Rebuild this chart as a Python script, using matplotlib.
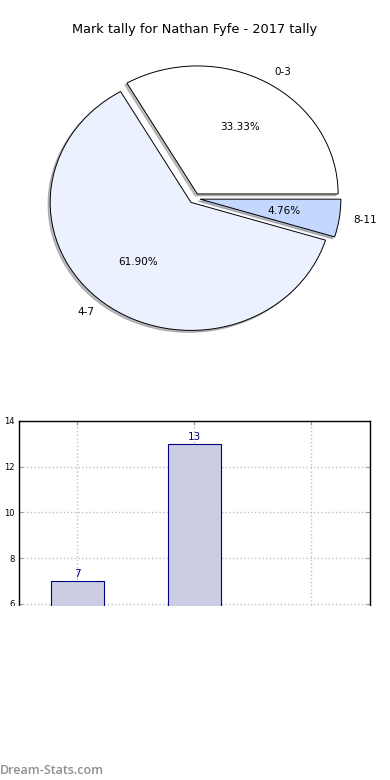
import matplotlib
matplotlib.use('Agg')
from matplotlib import pyplot as plt
from matplotlib.patches import Rectangle

labels = ['0-3', '4-7', '8-11']
counts = [7, 13, 1]
pie_colors = ['#ffffff', '#ebf1fe', '#c4d8fe']
title = 'Mark tally for Nathan Fyfe - 2017 tally'

fig = plt.figure(figsize=(3.9, 7.8), dpi=100)

# pie on top
ax1 = fig.add_axes([0.0474, 0.5405, 0.9026, 0.4103])
wedges, texts, autotexts = ax1.pie(counts, labels=labels, colors=pie_colors, autopct='%.2f%%',
                                   explode=(0.04, 0.04, 0.04),
                                   shadow={'ox': -0.011, 'oy': -0.011, 'shade': 0.5},
                                   startangle=0,
                                   wedgeprops={'edgecolor': 'black', 'linewidth': 0.7},
                                   textprops={'fontsize': 7.5})
ax1.set_aspect('auto')
ax1.set_xlim(-1.25, 1.25)
ax1.set_ylim(-1.25, 1.25)
fig.text(194.5 / 390, 1 - 30 / 780, title, ha='center', va='center', fontsize=9.3)

# bar chart below
ax2 = fig.add_axes([0.0487, 0.05, 0.9, 0.4103])
x = range(len(counts))
bars = ax2.bar(x, counts, width=0.45, color='#ccccE5', edgecolor='navy', linewidth=0.8, zorder=2)
for xi, c in zip(x, counts):
    ax2.text(xi, c + 0.1, str(c), ha='center', va='bottom', color='navy', fontsize=7.5)
ax2.set_xlim(-0.5, 2.5)
ax2.set_ylim(0, 14)
ax2.set_xticks(list(x))
ax2.set_xticklabels(labels)
ax2.set_yticks([0, 2, 4, 6, 8, 10, 12, 14])
ax2.grid(True, linestyle=':', color='#c0c0c0', linewidth=1.0, zorder=0)
ax2.set_axisbelow(True)
ax2.tick_params(direction='in', right=True, top=True, labelsize=6, length=3, color='#999999', pad=3)
for s in ax2.spines.values():
    s.set_linewidth(1.0)
ax2.set_ylabel('No. of Matches', fontsize=7)
ax2.yaxis.set_label_coords(-0.045, 0.5)

# lower part of the picture is blank
fig.patches.append(Rectangle((0, 0), 1, (780 - 606) / 780, transform=fig.transFigure,
                             facecolor='white', edgecolor='none', zorder=10))
fig.text(0.0, 1 - 770 / 780, 'Dream-Stats.com', ha='left', va='center', fontsize=9,
         color='#8f8f8f', family='Open Sans', weight='semibold', zorder=11)

plt.savefig('out.png', dpi=100)
